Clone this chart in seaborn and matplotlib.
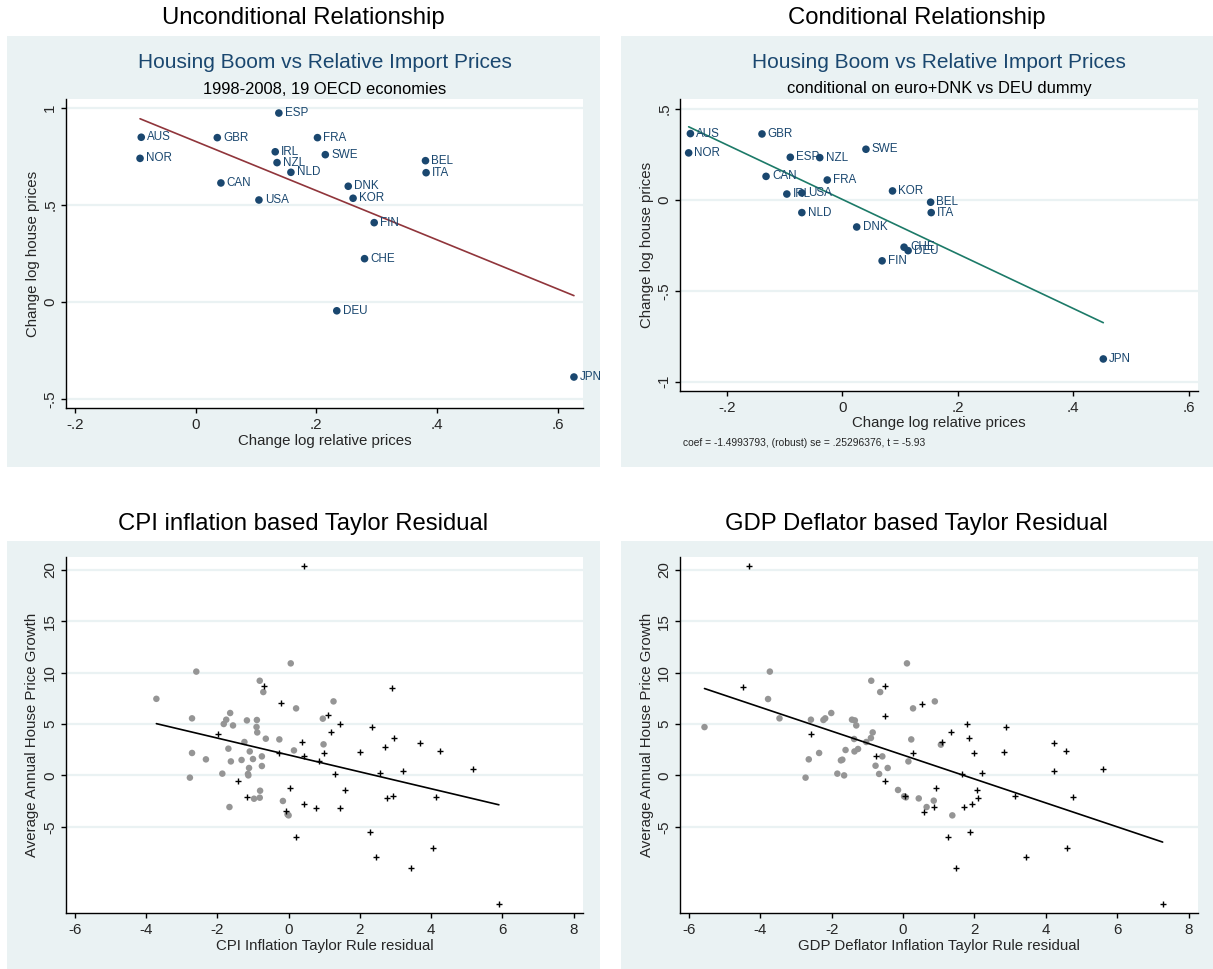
import numpy as np
import pandas as pd
import matplotlib
matplotlib.use("Agg")
import matplotlib.pyplot as plt
import seaborn as sns
from matplotlib.patches import Rectangle

# ---------------- data ----------------
countries = ["AUS", "NOR", "GBR", "CAN", "USA", "ESP", "IRL", "NZL", "NLD", "FRA",
             "SWE", "BEL", "ITA", "DNK", "KOR", "FIN", "CHE", "DEU", "JPN"]
uncond_relprice = [-0.090, -0.092, 0.036, 0.042, 0.105, 0.138, 0.132, 0.135, 0.158, 0.202,
                   0.215, 0.381, 0.382, 0.253, 0.261, 0.296, 0.280, 0.234, 0.627]
uncond_house = [0.850, 0.741, 0.848, 0.614, 0.526, 0.975, 0.775, 0.719, 0.669, 0.848,
                0.760, 0.729, 0.667, 0.597, 0.535, 0.409, 0.223, -0.046, -0.388]

cond_relprice = [-0.263, -0.266, -0.139, -0.132, -0.070, -0.090, -0.096, -0.039, -0.070, -0.026,
                 0.041, 0.153, 0.154, 0.025, 0.087, 0.069, 0.107, 0.114, 0.452]
cond_house = [0.363, 0.257, 0.361, 0.128, 0.037, 0.233, 0.031, 0.231, -0.071, 0.108,
              0.277, -0.014, -0.071, -0.150, 0.048, -0.336, -0.261, -0.280, -0.875]
coef_note = "coef = -1.4993793, (robust) se = .25296376, t = -5.93"

# CPI based Taylor residual panel
cpi_gray_x = [-3.71, -2.59, -2.71, -1.75, -1.82, -1.64, -1.56, -1.17, -0.89, -0.90,
              -0.81, -0.71, 0.06, 0.21, -0.88, -0.64, -0.26, -1.24, -2.71, -2.32,
              -1.69, -1.62, -1.32, -1.09, -1.00, -0.75, -0.75, -1.11, -1.14, -1.13,
              -1.86, -2.77, 0.15, -0.97, -0.81, -0.80, -0.16, 0.00, -0.03, -1.66,
              1.26, 0.96, 0.98]
cpi_gray_y = [7.45, 10.1, 5.55, 5.42, 5.00, 6.07, 4.86, 5.35, 5.39, 4.71,
              9.21, 8.11, 10.9, 6.52, 4.18, 3.57, 3.50, 3.25, 2.18, 1.56,
              2.60, 1.36, 1.50, 2.33, 1.59, 1.85, 0.91, 0.72, 0.14, 0.00,
              0.17, -0.22, 2.43, -2.27, -2.17, -1.49, -2.49, -3.89, -3.80, -3.08,
              7.20, 5.52, 3.02]
cpi_plus_x = [-0.69, -0.22, -1.98, -0.28, -1.43, 0.05, -1.16, -0.08, 0.21, 0.43,
              2.89, 1.10, 1.43, 1.19, 2.35, 2.95, 3.68, 0.98, 0.37, 0.42,
              2.00, 2.70, 4.26, 0.84, 1.29, 2.57, 3.21, 5.16, 1.58, 2.75,
              2.94, 4.13, 0.42, 0.77, 1.44, 2.27, 4.04, 2.45, 3.44, 5.90]
cpi_plus_y = [8.70, 7.00, 4.06, 2.14, -0.55, -1.26, -2.07, -3.50, -5.96, 20.33,
              8.53, 5.84, 4.96, 4.25, 4.74, 3.67, 3.15, 2.18, 3.28, 1.85,
              2.30, 2.72, 2.40, 1.40, 0.10, 0.23, 0.46, 0.65, -1.39, -2.24,
              -2.01, -2.07, -2.79, -3.14, -3.14, -5.54, -7.03, -7.94, -9.01, -12.5]

# GDP deflator based Taylor residual panel
gdp_gray_x = [-3.73, -3.78, -3.46, -5.56, -2.58, -2.23, -2.18, -2.01, -1.43, -1.35,
              -1.31, -0.89, -0.64, 0.11, 0.28, 0.89, 0.23, 1.06, 0.15, 0.44,
              0.86, 0.66, 1.38, -1.37, -0.85, -0.90, -1.03, -2.64, -2.35, -1.61,
              -1.70, -1.74, -1.36, -1.26, -0.58, -0.77, -0.43, -0.67, -1.84, -1.65,
              -2.73, -0.14, 0.03, 0.08]
gdp_gray_y = [10.1, 7.43, 5.55, 4.70, 5.42, 5.39, 5.55, 6.07, 5.42, 5.35,
              4.86, 9.21, 8.11, 10.9, 6.52, 7.20, 3.50, 2.99, 1.36, -2.24,
              -2.46, -3.08, -3.89, 3.54, 4.18, 3.64, 3.25, 1.56, 2.18, 2.47,
              1.53, 1.46, 2.33, 2.57, 1.85, 0.94, 0.72, 0.14, 0.17, 0.00,
              -0.22, -1.42, -2.04, -2.14]
gdp_plus_x = [-4.32, -4.48, -0.51, -0.51, 0.54, 1.78, 2.89, 1.35, 1.85, 1.08,
              4.23, 4.57, 0.28, 1.98, 2.84, 1.64, 2.22, 4.23, 5.59, 0.92,
              2.07, 3.13, 4.76, 2.11, 0.58, 0.88, 1.70, 1.92, 1.27, 1.87,
              4.60, 3.43, 1.48, 7.27, -2.58, -0.75, -0.50, 0.05]
gdp_plus_y = [20.33, 8.56, 8.70, 5.80, 6.97, 4.96, 4.74, 4.25, 3.67, 3.28,
              3.15, 2.40, 2.18, 2.18, 2.30, 0.10, 0.23, 0.46, 0.65, -1.26,
              -1.39, -2.01, -2.07, -2.24, -3.53, -3.11, -3.11, -2.79, -5.99, -5.54,
              -7.03, -7.94, -9.01, -12.5, 4.06, 1.92, -0.55, -2.00]

rel_xticks = [-0.2, 0, 0.2, 0.4, 0.6]
rel_xticklabels = ["-.2", "0", ".2", ".4", ".6"]
uncond_yticks = [-0.5, 0, 0.5, 1]
uncond_yticklabels = ["-.5", "0", ".5", "1"]
cond_yticks = [-1, -0.5, 0, 0.5]
cond_yticklabels = ["-1", "-.5", "0", ".5"]
tay_xticks = [-6, -4, -2, 0, 2, 4, 6, 8]
tay_yticks = [-5, 0, 5, 10, 15, 20]

# ---------------- style ----------------
W, H = 1213, 969
BG = "#EAF2F3"
NAVY = "#1A476F"
MAROON = "#90353B"
TEAL = "#1C7A68"
GRAY = "#959595"
sns.set_theme(style="white")
plt.rcParams["font.family"] = ["Liberation Sans", "DejaVu Sans"]

fig = plt.figure(figsize=(W / 100, H / 100), dpi=100)
fig.patch.set_facecolor("white")


def px_axes(l, t, r, b):
    return fig.add_axes([l / W, 1 - b / H, (r - l) / W, (b - t) / H])


def box(l, t, r, b):
    fig.add_artist(Rectangle((l / W, 1 - b / H), (r - l) / W, (b - t) / H,
                             transform=fig.transFigure, facecolor=BG,
                             edgecolor="none", zorder=-5))


def ftext(x, y, s, **kw):
    fig.text(x / W, 1 - y / H, s, **kw)


def style_axes(ax, xticks, xlabels, yticks, ylabels, xlim, ylim):
    ax.set_facecolor("white")
    for side in ("top", "right"):
        ax.spines[side].set_visible(False)
    for side in ("left", "bottom"):
        ax.spines[side].set_color("black")
        ax.spines[side].set_linewidth(1.0)
    ax.set_xlim(*xlim)
    ax.set_ylim(*ylim)
    ax.set_xticks(xticks)
    ax.set_xticklabels(xlabels, fontsize=10.9)
    ax.set_yticks(yticks)
    ax.set_yticklabels(ylabels, fontsize=10.9, rotation=90, va="center")
    ax.tick_params(axis="both", direction="out", length=3.8, width=1.0,
                   color="black", left=True, bottom=True)
    ax.tick_params(axis="x", pad=3.5)
    ax.tick_params(axis="y", pad=2.5)
    for yv in yticks:
        ax.axhline(yv, color=BG, lw=1.6, zorder=0)
    ax.set_xlabel("")
    ax.set_ylabel("")


# ---------------- outer boxes & headers ----------------
box(7, 36, 600, 467)
box(621, 36, 1213, 467)
box(7, 541, 600, 969)
box(621, 541, 1213, 969)

ftext(303.5, 18, "Unconditional Relationship", fontsize=17.2, ha="center", va="center", color="black")
ftext(916.5, 18, "Conditional Relationship", fontsize=17.2, ha="center", va="center", color="black")
ftext(303.5, 524, "CPI inflation based Taylor Residual", fontsize=17.2, ha="center", va="center", color="black")
ftext(916.5, 524, "GDP Deflator based Taylor Residual", fontsize=17.2, ha="center", va="center", color="black")

# ---------------- top-left: unconditional ----------------
ax1 = px_axes(66, 99, 583, 408)
df1 = pd.DataFrame({"country": countries, "x": uncond_relprice, "y": uncond_house})
sns.regplot(data=df1, x="x", y="y", ax=ax1, scatter=False, ci=None, truncate=True,
            color=MAROON, line_kws=dict(lw=1.2, zorder=2))
sns.scatterplot(data=df1, x="x", y="y", ax=ax1, color=NAVY, s=30,
                edgecolor="none", zorder=3, legend=False)
for c, xv, yv in zip(df1["country"], df1["x"], df1["y"]):
    ax1.annotate(c, (xv, yv), xytext=(4.2, 0), textcoords="offset points",
                 va="center", ha="left", fontsize=8.4, color=NAVY, zorder=4)
style_axes(ax1, rel_xticks, rel_xticklabels, uncond_yticks, uncond_yticklabels,
           (-0.2147, 0.642), (-0.548, 1.0475))
ftext(324.5, 63, "Housing Boom vs Relative Import Prices", fontsize=15, ha="center", va="center", color=NAVY)
ftext(324.5, 89, "1998-2008, 19 OECD economies", fontsize=11.9, ha="center", va="center", color="black")
ftext(324.5, 441, "Change log relative prices", fontsize=10.8, ha="center", va="center")
ftext(33, 253.5, "Change log house prices", fontsize=10.8, ha="center", va="center", rotation=90)

# ---------------- top-right: conditional ----------------
ax2 = px_axes(680, 99, 1198, 391)
df2 = pd.DataFrame({"country": countries, "x": cond_relprice, "y": cond_house})
sns.regplot(data=df2, x="x", y="y", ax=ax2, scatter=False, ci=None, truncate=True,
            color=TEAL, line_kws=dict(lw=1.2, zorder=2))
sns.scatterplot(data=df2, x="x", y="y", ax=ax2, color=NAVY, s=30,
                edgecolor="none", zorder=3, legend=False)
for c, xv, yv in zip(df2["country"], df2["x"], df2["y"]):
    ax2.annotate(c, (xv, yv), xytext=(4.2, 0), textcoords="offset points",
                 va="center", ha="left", fontsize=8.4, color=NAVY, zorder=4)
style_axes(ax2, rel_xticks, rel_xticklabels, cond_yticks, cond_yticklabels,
           (-0.281, 0.616), (-1.051, 0.553))
ftext(939, 63, "Housing Boom vs Relative Import Prices", fontsize=15, ha="center", va="center", color=NAVY)
ftext(939, 89, "conditional on euro+DNK vs DEU dummy", fontsize=11.9, ha="center", va="center", color="black")
ftext(939, 423, "Change log relative prices", fontsize=10.8, ha="center", va="center")
ftext(646.5, 245, "Change log house prices", fontsize=10.8, ha="center", va="center", rotation=90)
ftext(683, 443, coef_note, fontsize=7.4, ha="left", va="center")


# ---------------- bottom panels ----------------
def taylor_panel(l, r, gx, gy, plx, ply, xlabel, ytitle_x):
    ax = px_axes(l, 557, r, 913)
    dfg = pd.DataFrame({"x": gx, "y": gy})
    dfp = pd.DataFrame({"x": plx, "y": ply})
    dfa = pd.concat([dfg, dfp], ignore_index=True)
    sns.scatterplot(data=dfg, x="x", y="y", ax=ax, color=GRAY, s=22,
                    edgecolor="none", zorder=3, legend=False)
    sns.scatterplot(data=dfp, x="x", y="y", ax=ax, color="black", marker="+",
                    s=22, linewidth=1.0, zorder=3, legend=False)
    sns.regplot(data=dfa, x="x", y="y", ax=ax, scatter=False, ci=None, truncate=True,
                color="black", line_kws=dict(lw=1.2, zorder=4))
    style_axes(ax, tay_xticks, [str(v) for v in tay_xticks], tay_yticks,
               [str(v) for v in tay_yticks], (-6.246, 8.26), (-13.39, 21.25))
    ftext((l + r) / 2, 946, xlabel, fontsize=10.8, ha="center", va="center")
    ftext(ytitle_x, 735, "Average Annual House Price Growth", fontsize=10.8,
          ha="center", va="center", rotation=90)
    return ax


taylor_panel(66, 583, cpi_gray_x, cpi_gray_y, cpi_plus_x, cpi_plus_y,
             "CPI Inflation Taylor Rule residual", 32)
taylor_panel(680, 1198, gdp_gray_x, gdp_gray_y, gdp_plus_x, gdp_plus_y,
             "GDP Deflator Inflation Taylor Rule residual", 646.5)

fig.savefig("out.png", dpi=100, facecolor="white")
